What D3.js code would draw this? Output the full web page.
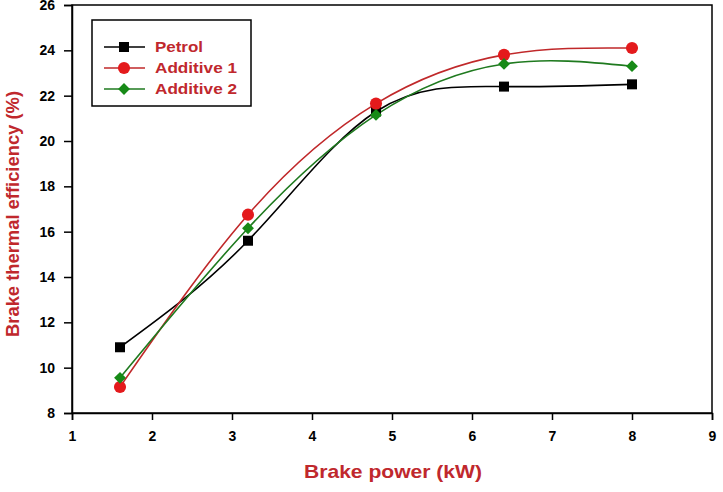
<!DOCTYPE html>
<html>
<head>
<meta charset="utf-8">
<script src="https://cdn.jsdelivr.net/npm/d3@7"></script>
<style>
  body { margin: 0; background: #fff; }
  text { font-family: "Liberation Sans", Arial, sans-serif; }
</style>
</head>
<body>
<svg id="chart" width="723" height="492"></svg>
<script>
var power = [1.6, 3.2, 4.8, 6.4, 8];
var petrol = [10.9, 15.6, 21.3, 22.4, 22.5];
var additive1 = [9.15, 16.75, 21.65, 23.8, 24.1];
var additive2 = [9.55, 16.15, 21.15, 23.4, 23.3];
var xTicks = [1, 2, 3, 4, 5, 6, 7, 8, 9];
var yTicks = [8, 10, 12, 14, 16, 18, 20, 22, 24, 26];

var series = [
  {name: "Petrol", values: petrol, line: "#000", fill: "#000", symbol: d3.symbolSquare, size: 100, rot: 0, tl: 48},
  {name: "Additive 1", values: additive1, line: "#c0282a", fill: "#e41a1c", symbol: d3.symbolCircle, size: 115, rot: 0, tl: 82},
  {name: "Additive 2", values: additive2, line: "#1f7a1f", fill: "#178a17", symbol: d3.symbolSquare, size: 70, rot: 45, tl: 82}
];

var margin = {top: 5, right: 11, bottom: 79, left: 72},
    width = 723 - margin.left - margin.right,
    height = 492 - margin.top - margin.bottom;

var svg = d3.select("#chart")
  .append("g")
    .attr("transform", "translate(" + margin.left + "," + margin.top + ")");

var x = d3.scaleLinear().domain([1, 9]).range([0, width]);
var y = d3.scaleLinear().domain([8, 26]).range([height, 0]);

// frame
svg.append("rect")
  .attr("width", width)
  .attr("height", height)
  .attr("fill", "none")
  .attr("stroke", "#000")
  .attr("stroke-width", 1.5);

var xAxis = svg.append("g")
  .attr("transform", "translate(0," + height + ")")
  .call(d3.axisBottom(x).tickValues(xTicks).tickSize(7).tickPadding(11).tickFormat(d3.format("d")));

var yAxis = svg.append("g")
  .call(d3.axisLeft(y).tickValues(yTicks).tickSize(8).tickPadding(9).tickFormat(d3.format("d")));

[xAxis, yAxis].forEach(function(a) {
  a.select(".domain").attr("stroke-width", 1.5);
  a.selectAll(".tick line").attr("stroke-width", 1.5);
  a.selectAll(".tick text")
    .attr("font-size", 14)
    .attr("font-weight", "bold")
    .attr("fill", "#000")
    .style("font-family", "'Liberation Sans', Arial, sans-serif");
});

var line = d3.line()
  .x(function(d, i) { return x(power[i]); })
  .y(function(d) { return y(d); })
  .curve(d3.curveNatural);

series.forEach(function(s) {
  svg.append("path")
    .datum(s.values)
    .attr("fill", "none")
    .attr("stroke", s.line)
    .attr("stroke-width", 1.6)
    .attr("d", line);
});

series.forEach(function(s) {
  svg.selectAll(null)
    .data(s.values)
    .enter().append("path")
      .attr("transform", function(d, i) { return "translate(" + x(power[i]) + "," + y(d) + ") rotate(" + s.rot + ")"; })
      .attr("d", d3.symbol().type(s.symbol).size(s.size))
      .attr("fill", s.fill);
});

// legend
var legend = svg.append("g").attr("transform", "translate(20,15)");
legend.append("rect")
  .attr("width", 159)
  .attr("height", 86)
  .attr("fill", "#fff")
  .attr("stroke", "#000")
  .attr("stroke-width", 1.5);

series.forEach(function(s, i) {
  var row = legend.append("g").attr("transform", "translate(0," + (27 + i * 21) + ")");
  row.append("line")
    .attr("x1", 12).attr("x2", 53)
    .attr("stroke", s.line)
    .attr("stroke-width", 1.6);
  row.append("path")
    .attr("transform", "translate(32,0) rotate(" + s.rot + ")")
    .attr("d", d3.symbol().type(s.symbol).size(s.size))
    .attr("fill", s.fill);
  row.append("text")
    .attr("x", 63)
    .attr("dy", "0.35em")
    .attr("font-size", 15)
    .attr("font-weight", "bold")
    .attr("fill", "#c0282d")
    .attr("textLength", s.tl)
    .attr("lengthAdjust", "spacingAndGlyphs")
    .text(s.name);
});

// axis titles
svg.append("text")
  .attr("x", width / 2 + 1)
  .attr("y", height + 65)
  .attr("text-anchor", "middle")
  .attr("font-size", 19)
  .attr("font-weight", "bold")
  .attr("fill", "#c0282d")
  .attr("textLength", 178)
  .attr("lengthAdjust", "spacingAndGlyphs")
  .text("Brake power (kW)");

svg.append("text")
  .attr("transform", "translate(" + (-53) + "," + (height / 2 + 5) + ") rotate(-90)")
  .attr("text-anchor", "middle")
  .attr("font-size", 18)
  .attr("font-weight", "bold")
  .attr("fill", "#c0282d")
  .attr("textLength", 246)
  .attr("lengthAdjust", "spacingAndGlyphs")
  .text("Brake thermal efficiency (%)");
</script>
</body>
</html>
